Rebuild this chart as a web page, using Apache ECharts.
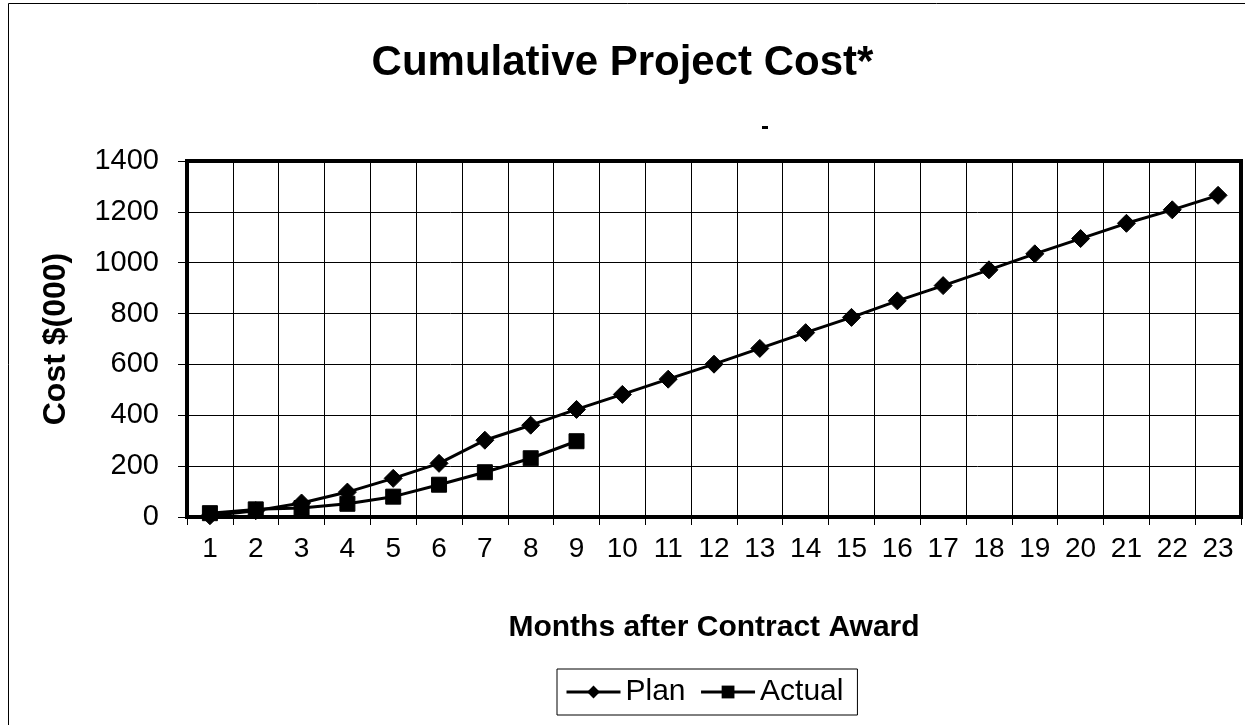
<!DOCTYPE html>
<html>
<head>
<meta charset="utf-8">
<script src="https://cdn.jsdelivr.net/npm/echarts@6/dist/echarts.min.js"></script>
<style>
html,body{margin:0;padding:0;background:#fff;}
#chart{width:1245px;height:725px;}
</style>
</head>
<body>
<div id="chart"></div>
<script>
const months = ['1','2','3','4','5','6','7','8','9','10','11','12','13','14','15','16','17','18','19','20','21','22','23'];
const plan = [5, 25, 55, 98, 152, 211, 302, 361, 423, 482, 542, 601, 663, 725, 785, 850, 910, 972, 1035, 1095, 1155, 1208, 1265];
const actual = [15, 30, 35, 52, 80, 127, 176, 231, 298];
const yTicks = [0, 200, 400, 600, 800, 1000, 1200, 1400];

const FONT = '"Liberation Sans", Arial, sans-serif';
const chart = echarts.init(document.getElementById('chart'), null, {renderer: 'canvas'});
chart.setOption({
  backgroundColor: '#fff',
  animation: false,
  textStyle: {fontFamily: FONT, color: '#000'},
  title: {
    text: 'Cumulative Project Cost*',
    left: 'center', top: 37,
    textStyle: {fontFamily: FONT, fontSize: 42, fontWeight: 'bold', color: '#000'}
  },
  graphic: [
    {type: 'rect', shape: {x: 8.5, y: 3.5, width: 1240, height: 730}, style: {fill: 'none', stroke: '#000', lineWidth: 1}, silent: true},
    {type: 'rect', shape: {x: 762, y: 126, width: 6, height: 3}, style: {fill: '#000'}, silent: true}
  ],
  grid: {
    left: 187, right: 4, top: 161, bottom: 208,
    show: true, borderColor: '#000', borderWidth: 4, backgroundColor: 'transparent'
  },
  legend: {
    data: ['Plan', 'Actual'],
    left: 557, top: 669,
    orient: 'horizontal',
    itemWidth: 54, itemHeight: 16, itemGap: 14,
    padding: [8, 14, 8, 8],
    borderColor: '#000', borderWidth: 1,
    lineStyle: {width: 3},
    textStyle: {fontFamily: FONT, fontSize: 30, color: '#000'}
  },
  xAxis: {
    type: 'category',
    data: months,
    boundaryGap: true,
    name: 'Months after Contract Award',
    nameLocation: 'middle',
    nameGap: 96,
    nameTextStyle: {fontFamily: FONT, fontSize: 30, fontWeight: 'bold', color: '#000'},
    axisLine: {show: true, lineStyle: {color: '#000', width: 4}},
    axisTick: {show: true, inside: false, length: 8, lineStyle: {color: '#000', width: 1}},
    axisLabel: {fontFamily: FONT, fontSize: 28, color: '#000', margin: 18, interval: 0},
    splitLine: {show: true, lineStyle: {color: '#000', width: 1}}
  },
  yAxis: {
    type: 'value',
    min: 0, max: 1400, interval: 200,
    name: 'Cost $(000)',
    nameLocation: 'middle',
    nameGap: 115,
    nameRotate: 90,
    nameTextStyle: {fontFamily: FONT, fontSize: 32, fontWeight: 'bold', color: '#000'},
    axisLine: {show: true, lineStyle: {color: '#000', width: 4}},
    axisTick: {show: true, inside: false, length: 9, lineStyle: {color: '#000', width: 1}},
    axisLabel: {fontFamily: FONT, fontSize: 29, color: '#000', margin: 28,
      formatter: v => (yTicks.indexOf(v) >= 0 ? String(v) : '')},
    splitLine: {show: true, lineStyle: {color: '#000', width: 1}}
  },
  series: [
    {
      name: 'Plan', type: 'line', data: plan,
      symbol: 'diamond', symbolSize: 18,
      lineStyle: {color: '#000', width: 3},
      itemStyle: {color: '#000', borderColor: '#000'},
      z: 3
    },
    {
      name: 'Actual', type: 'line', data: actual,
      symbol: 'rect', symbolSize: 15,
      lineStyle: {color: '#000', width: 3},
      itemStyle: {color: '#000', borderColor: '#000'},
      z: 4
    }
  ]
});
</script>
</body>
</html>
